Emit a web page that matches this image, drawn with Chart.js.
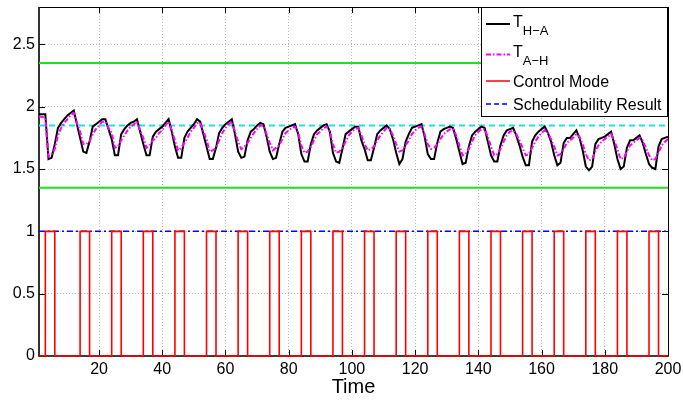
<!DOCTYPE html>
<html><head><meta charset="utf-8">
<script src="https://cdn.jsdelivr.net/npm/chart.js@4.4.0/dist/chart.umd.min.js"></script>
<style>html,body{margin:0;padding:0;background:#fff;}#wrap{width:683px;height:402px;}</style>
</head><body><div id="wrap"><canvas id="c" width="683" height="402"></canvas></div>
<script>
// ---- data ----
const tHA = [
1.94,1.94,1.94,1.58,1.59,1.70,1.83,1.87,1.90,1.93,
1.95,1.97,1.86,1.75,1.64,1.63,1.72,1.84,1.86,1.88,
1.90,1.90,1.82,1.74,1.61,1.61,1.78,1.82,1.85,1.87,
1.88,1.90,1.80,1.70,1.61,1.61,1.76,1.80,1.82,1.84,
1.87,1.90,1.80,1.68,1.59,1.59,1.75,1.80,1.83,1.86,
1.90,1.88,1.78,1.68,1.58,1.58,1.67,1.79,1.83,1.86,
1.88,1.90,1.78,1.64,1.59,1.60,1.73,1.80,1.82,1.85,
1.87,1.86,1.76,1.64,1.58,1.59,1.70,1.80,1.83,1.84,
1.85,1.86,1.78,1.62,1.56,1.56,1.70,1.78,1.81,1.83,
1.85,1.86,1.80,1.63,1.56,1.55,1.66,1.78,1.80,1.82,
1.84,1.84,1.73,1.66,1.57,1.57,1.67,1.78,1.81,1.83,
1.85,1.82,1.74,1.63,1.54,1.58,1.72,1.78,1.83,1.84,
1.85,1.86,1.76,1.62,1.58,1.58,1.71,1.80,1.82,1.83,
1.84,1.83,1.74,1.64,1.54,1.55,1.68,1.77,1.80,1.82,
1.84,1.83,1.72,1.61,1.56,1.56,1.69,1.77,1.81,1.82,
1.83,1.77,1.69,1.60,1.53,1.53,1.72,1.77,1.80,1.82,
1.84,1.79,1.72,1.61,1.53,1.55,1.71,1.75,1.75,1.78,
1.81,1.75,1.65,1.52,1.49,1.52,1.70,1.74,1.75,1.76,
1.78,1.80,1.70,1.58,1.50,1.52,1.67,1.73,1.73,1.75,
1.77,1.71,1.62,1.54,1.51,1.50,1.68,1.74,1.75,1.76];
const tAH = [
1.92,1.92,1.91,1.60,1.62,1.66,1.77,1.83,1.87,1.90,
1.93,1.95,1.87,1.80,1.70,1.70,1.72,1.78,1.82,1.85,
1.88,1.88,1.83,1.79,1.67,1.68,1.73,1.77,1.81,1.84,
1.86,1.88,1.81,1.75,1.67,1.69,1.73,1.75,1.79,1.81,
1.85,1.88,1.81,1.73,1.65,1.67,1.71,1.75,1.80,1.83,
1.87,1.87,1.80,1.74,1.64,1.65,1.67,1.73,1.79,1.83,
1.86,1.88,1.80,1.72,1.66,1.68,1.71,1.75,1.79,1.82,
1.85,1.85,1.78,1.71,1.65,1.67,1.69,1.74,1.79,1.81,
1.83,1.84,1.79,1.69,1.63,1.64,1.68,1.73,1.78,1.80,
1.83,1.84,1.80,1.70,1.63,1.64,1.67,1.72,1.77,1.80,
1.82,1.83,1.77,1.70,1.65,1.66,1.68,1.73,1.77,1.80,
1.83,1.82,1.77,1.70,1.64,1.65,1.69,1.73,1.78,1.81,
1.83,1.84,1.78,1.70,1.66,1.67,1.70,1.74,1.78,1.80,
1.82,1.82,1.77,1.69,1.61,1.62,1.66,1.72,1.77,1.80,
1.82,1.82,1.76,1.68,1.61,1.62,1.66,1.72,1.77,1.80,
1.81,1.78,1.73,1.67,1.61,1.62,1.67,1.72,1.76,1.79,
1.81,1.79,1.74,1.68,1.61,1.62,1.66,1.71,1.73,1.75,
1.78,1.76,1.70,1.62,1.57,1.58,1.64,1.69,1.72,1.74,
1.76,1.78,1.73,1.66,1.58,1.59,1.64,1.69,1.71,1.73,
1.75,1.73,1.67,1.61,1.57,1.58,1.63,1.69,1.72,1.74];
const ctrlOn  = [3,14,24,34,44,54,64,74,84,94,104,114,124,134,144,154,164,174,184,194];
const ctrlOff = [6,17,27,37,47,57,67,77,87,97,107,117,127,137,147,157,167,177,187,197];
const schedX = [1,200];
const schedY = [1,1];
const upperBound = 2.35;
const lowerBound = 1.35;
const targetLevel = 1.85;
const xTicks = [20,40,60,80,100,120,140,160,180,200];
const yTicks = [0,0.5,1,1.5,2,2.5];
const xMin = 1, xMax = 200, yMin = 0, yMax = 2.8;

// ---- build ----
const FONT = "'Liberation Sans', Arial, Helvetica, sans-serif";
const toPts = (arr) => arr.map((v,i)=>({x:i+1,y:v}));
const ctrlPts = [{x:xMin,y:0}];
ctrlOn.forEach((on,i)=>{
  ctrlPts.push({x:on,y:0},{x:on,y:1},{x:ctrlOff[i],y:1},{x:ctrlOff[i],y:0});
});
ctrlPts.push({x:xMax,y:0});
const hLine = (v)=>[{x:xMin,y:v},{x:xMax,y:v}];

const frameTicks = {
  id:'frameTicks',
  beforeDatasetsDraw(chart){
    const {ctx, chartArea:a, scales:{x,y}} = chart;
    ctx.save();
    ctx.strokeStyle='#000'; ctx.lineWidth=1;
    ctx.beginPath();
    xTicks.forEach(v=>{const p=Math.round(x.getPixelForValue(v))+0.5;
      ctx.moveTo(p,a.bottom); ctx.lineTo(p,a.bottom-6);
      ctx.moveTo(p,a.top); ctx.lineTo(p,a.top+6);});
    yTicks.forEach(v=>{const p=Math.round(y.getPixelForValue(v))+0.5;
      ctx.moveTo(a.left,p); ctx.lineTo(a.left+6,p);
      ctx.moveTo(a.right,p); ctx.lineTo(a.right-6,p);});
    ctx.stroke();
    ctx.beginPath();
    ctx.moveTo(a.left+0.5,a.top+0.5); ctx.lineTo(a.right+0.5,a.top+0.5);
    ctx.lineTo(a.right+0.5,a.bottom); ctx.stroke();
    ctx.lineWidth=1.6;
    ctx.beginPath();
    ctx.moveTo(a.left,a.top); ctx.lineTo(a.left,a.bottom); ctx.lineTo(a.right+1,a.bottom);
    ctx.stroke();
    ctx.restore();
  }
};

const legendBox = {
  id:'legendBox',
  afterDraw(chart){
    const ctx = chart.ctx;
    ctx.save();
    ctx.fillStyle='#fff'; ctx.fillRect(481.5,7.5,186,109);
    ctx.strokeStyle='#000'; ctx.lineWidth=1; ctx.strokeRect(481.5,7.5,186,109);
    const sample=(y,color,dash,w)=>{ctx.save();ctx.strokeStyle=color;ctx.lineWidth=w;ctx.setLineDash(dash);
      ctx.beginPath();ctx.moveTo(486,y);ctx.lineTo(510,y);ctx.stroke();ctx.restore();};
    sample(24,'#000',[],2);
    sample(54.5,'#ff00ff',[5,2,1.5,2],2);
    sample(81,'#ff0000',[],1.5);
    sample(104,'#0000ff',[5,3],1.5);
    ctx.fillStyle='#000'; ctx.textBaseline='alphabetic'; ctx.textAlign='left';
    const sub=(y1,y2,s)=>{ctx.font='16px '+FONT; ctx.fillText('T',513,y1);
      const w=ctx.measureText('T').width; ctx.font='13px '+FONT; ctx.fillText(s,513+w,y2);};
    sub(27,35,'H\u2212A');
    sub(57,65,'A\u2212H');
    ctx.font='16px '+FONT;
    ctx.fillText('Control Mode',513,87);
    ctx.fillText('Schedulability Result',513,110);
    ctx.restore();
  }
};

new Chart(document.getElementById('c'),{
  type:'line',
  data:{datasets:[
    {label:'T_H-A', data:toPts(tHA), borderColor:'#000', borderWidth:2, order:2},
    {label:'T_A-H', data:toPts(tAH), borderColor:'#ff00ff', borderWidth:2, borderDash:[5,2,1.5,2], order:1},
    {label:'Control Mode', data:ctrlPts, borderColor:'#ff0000', borderWidth:1.6, order:3, clip:3},
    {label:'Schedulability Result', data:schedX.map((xv,i)=>({x:xv,y:schedY[i]})), borderColor:'#0000ff', borderWidth:1.5, borderDash:[6,3,2,3], order:4},
    {label:'upper', data:hLine(upperBound), borderColor:'#22dd22', borderWidth:2, order:6},
    {label:'lower', data:hLine(lowerBound), borderColor:'#22dd22', borderWidth:2, order:6},
    {label:'target', data:hLine(targetLevel), borderColor:'#22e0e0', borderWidth:2, borderDash:[6,4], order:5}
  ]},
  options:{
    responsive:false, animation:false,
    layout:{padding:{left:0,top:7,right:15,bottom:0}},
    plugins:{legend:{display:false}, tooltip:{enabled:false}},
    elements:{point:{radius:0}, line:{tension:0, fill:false}},
    scales:{
      x:{type:'linear', min:xMin, max:xMax,
        afterFit(s){s.height=46; s.paddingLeft=0; s.paddingRight=0;},
        afterBuildTicks(s){s.ticks=xTicks.map(v=>({value:v}));},
        grid:{color:'#b8b8b8', lineWidth:1, drawTicks:false},
        border:{display:false, dash:[1,2]},
        ticks:{font:{family:FONT,size:16}, color:'#000', padding:4, maxRotation:0, autoSkip:false},
        title:{display:true, text:'Time', font:{family:FONT,size:20}, color:'#000', padding:{top:0,bottom:3}}
      },
      y:{type:'linear', min:yMin, max:yMax,
        afterFit(s){s.width=39; s.paddingTop=0; s.paddingBottom=0;},
        afterBuildTicks(s){s.ticks=yTicks.map(v=>({value:v}));},
        grid:{color:'#b8b8b8', lineWidth:1, drawTicks:false},
        border:{display:false, dash:[1,2]},
        ticks:{font:{family:FONT,size:16}, color:'#000', padding:4, callback:(v)=>String(v)}
      }
    }
  },
  plugins:[frameTicks, legendBox]
});
</script></body></html>
